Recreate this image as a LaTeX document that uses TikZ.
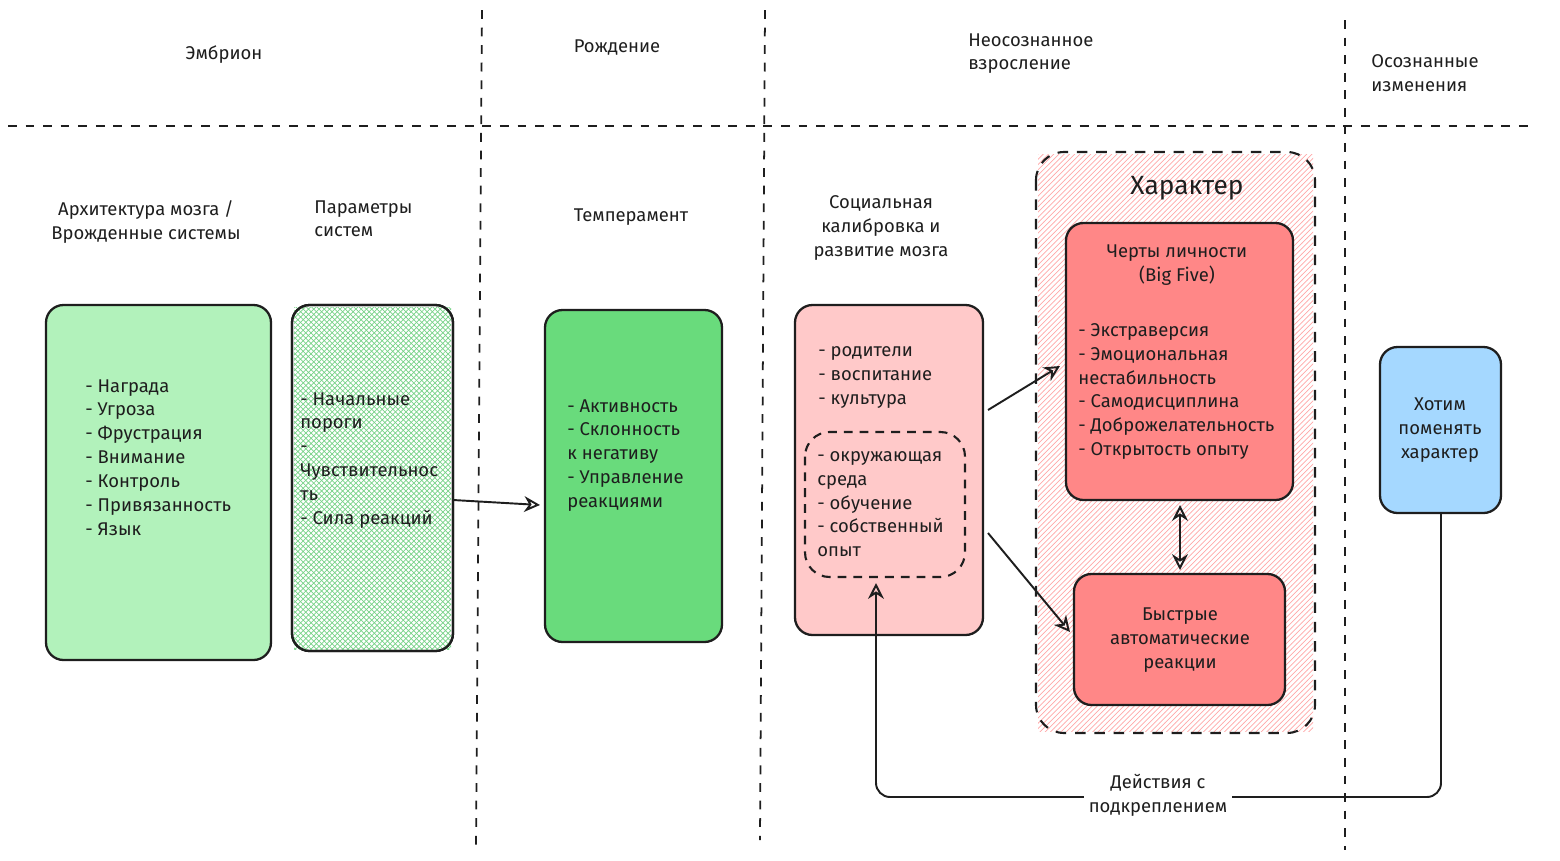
\documentclass[tikz,border=0pt]{standalone}
\usepackage{fontspec}
\setmainfont{Fira Sans}
\usetikzlibrary{patterns,arrows.meta}
\definecolor{g1}{HTML}{B2F2BB}
\definecolor{g2}{HTML}{69DB7C}
\definecolor{g3}{HTML}{40C057}
\definecolor{p1}{HTML}{FFC9C9}
\definecolor{r1}{HTML}{FF8787}
\definecolor{r2}{HTML}{FFA8A8}
\definecolor{b1}{HTML}{A5D8FF}
\definecolor{ink}{HTML}{1E1E1E}
\begin{document}
\begin{tikzpicture}[x=0.02cm,y=-0.02cm,
  every node/.style={font=\fontsize{10.5}{13.6}\selectfont, text=ink, inner sep=0pt},
  box/.style={draw=ink, line width=1.3pt, rounded corners=10pt},
  sep/.style={draw=ink, line width=1pt, dash pattern=on 5pt off 5pt},
  arr/.style={draw=ink, line width=1.1pt, -{Stealth[open,length=9pt,width=9pt]}},
  lst/.style={align=left, anchor=north west},
  ctr/.style={align=center}]
\useasboundingbox (0,0) rectangle (1560,860);
% separators
\draw[sep] (8,126) -- (1535,126);
\draw[sep] (482,10) -- (476,845);
\draw[sep] (765,10) -- (760,840);
\draw[sep] (1345,20) -- (1345,850);
% headers
\node[ctr] (h1) at (224,55) {Эмбрион};
\node[ctr] (h2) at (617,48) {Рождение};
\node[lst] (h3) at (968,33) {Неосознанное\\взросление};
\node[lst] (h4) at (1371,54) {Осознанные\\изменения};
\node[ctr] (l1) at (146,222) {Архитектура мозга /\\Врожденные системы};
\node[lst] (l2) at (314,200) {Параметры\\систем};
\node[ctr] (l3) at (631,217) {Темперамент};
\node[ctr] (l4) at (881,228) {Социальная\\калибровка и\\развитие мозга};
% box1
\draw[box, fill=g1] (46,305) rectangle (271,660);
\node (b1) at (158,482) {};
\node[lst] (t1) at (85,379) {- Награда\\- Угроза\\- Фрустрация\\- Внимание\\- Контроль\\- Привязанность\\- Язык};
% box2
\draw[box, fill=white] (292,305) rectangle (453,651);
\fill[pattern=crosshatch, pattern color=g3!70] (294,307) rectangle (451,649);
\draw[box] (292,305) rectangle (453,651);
\node[lst] (t2) at (300,392) {- Начальные\\пороги\\-\\Чувствительнос\\ть\\- Сила реакций};
\coordinate (b2r) at (453,500);
% box3
\draw[box, fill=g2] (545,310) rectangle (722,642);
\node[lst] (t3) at (567,399) {- Активность\\- Склонность\\к негативу\\- Управление\\реакциями};
\coordinate (b3l) at (540,505);
% box4
\draw[box, fill=p1] (795,305) rectangle (983,635);
\node[lst] (t4) at (818,346) {- родители\\- воспитание\\- культура};
\draw[ink, line width=1.2pt, dash pattern=on 5pt off 4pt, rounded corners=14pt] (805,432) rectangle (965,577);
\node[lst] (t5) at (817,451) {- окружающая\\среда\\- обучение\\- собственный\\опыт};
% character
\fill[pattern=north east lines, pattern color=r2] (1038,154) rectangle (1313,731);
\draw[ink, line width=1.2pt, dash pattern=on 6pt off 5pt, rounded corners=16pt] (1036,152) rectangle (1315,733);
\node[ctr, font=\fontsize{15}{18}\selectfont] (ch) at (1187,188) {Характер};
\draw[box, fill=r1] (1066,223) rectangle (1293,500);
\node[ctr] (t6) at (1177,265) {Черты личности\\(Big Five)};
\node[lst] (t7) at (1078,323) {- Экстраверсия\\- Эмоциональная\\нестабильность\\- Самодисциплина\\- Доброжелательность\\- Открытость опыту};
\draw[box, fill=r1] (1074,574) rectangle (1285,705);
\node[ctr] (t8) at (1180,640) {Быстрые\\автоматические\\реакции};
\draw[box, fill=b1] (1380,347) rectangle (1501,513);
\node[ctr] (t9) at (1440,430) {Хотим\\поменять\\характер};
% arrows
\coordinate (a1) at (988,410); \coordinate (a1e) at (1060,366);
\coordinate (a2) at (988,533); \coordinate (a2e) at (1070,632);
\coordinate (d1) at (1180,505); \coordinate (d2) at (1180,570);
\draw[arr] (b2r) -- (b3l);
\draw[arr] (a1) -- (a1e);
\draw[arr] (a2) -- (a2e);
\draw[arr, {Stealth[open,length=9pt,width=9pt]}-{Stealth[open,length=9pt,width=9pt]}] (d1) -- (d2);
\coordinate (f0) at (1441,513); \coordinate (fe) at (876,583);
\draw[arr, rounded corners=8pt] (f0) -- (1441,797) -- (876,797) -- (fe);
\node[ctr, fill=white, inner sep=3pt] (lab) at (1158,795) {Действия с\\подкреплением};
\end{tikzpicture}
\end{document}
